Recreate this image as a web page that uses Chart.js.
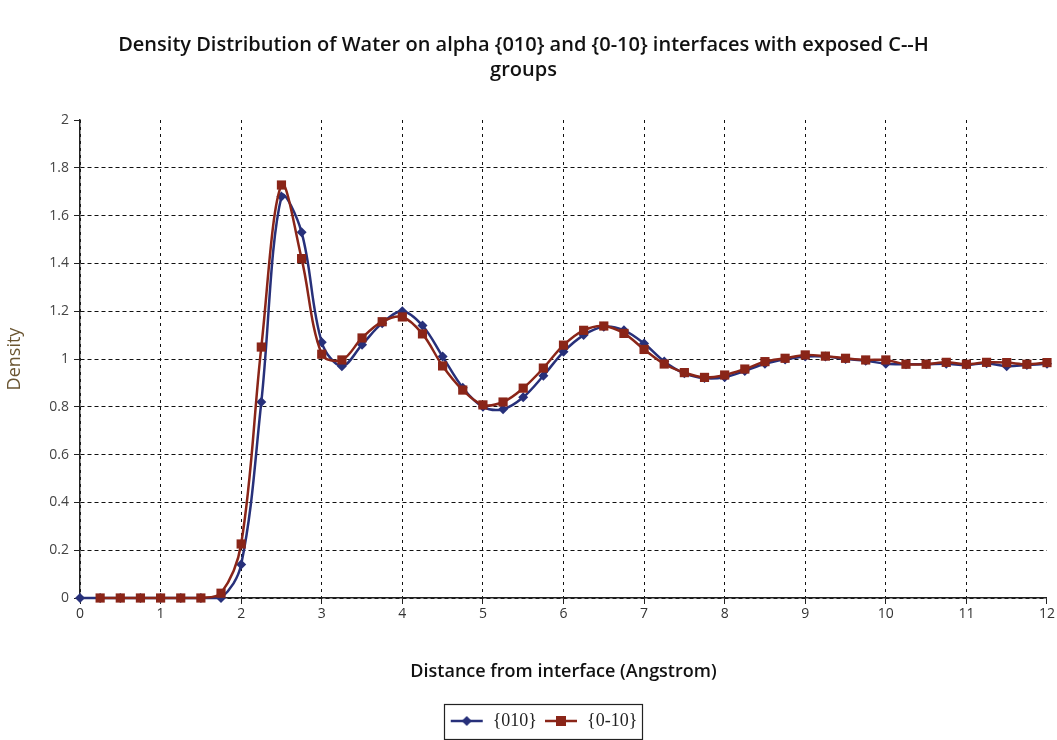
<!DOCTYPE html>
<html>
<head>
<meta charset="utf-8">
<script src="https://cdn.jsdelivr.net/npm/chart.js@4"></script>
<style>
  html, body { margin: 0; padding: 0; background: #fff; }
  #wrap { width: 1057px; height: 740px; }
</style>
</head>
<body>
<div id="wrap"><canvas id="DensityChart"></canvas></div>
<script>
const distance = [
    0, 0.25, 0.5, 0.75, 1, 1.25, 1.5, 1.75, 2, 2.25, 2.5, 2.75,
    3, 3.25, 3.5, 3.75, 4, 4.25, 4.5, 4.75, 5, 5.25, 5.5, 5.75,
    6, 6.25, 6.5, 6.75, 7, 7.25, 7.5, 7.75, 8, 8.25, 8.5, 8.75,
    9, 9.25, 9.5, 9.75, 10, 10.25, 10.5, 10.75, 11, 11.25, 11.5, 11.75, 12
];
const density_010 = [
    0, 0, 0, 0, 0, 0, 0, 0, 0.14, 0.82, 1.68, 1.53,
    1.07, 0.97, 1.06, 1.15, 1.20, 1.14, 1.01, 0.88, 0.80, 0.79, 0.84, 0.93,
    1.03, 1.10, 1.135, 1.12, 1.065, 0.99, 0.94, 0.92, 0.924, 0.95, 0.98, 0.998,
    1.01, 1.01, 1.0, 0.993, 0.98, 0.978, 0.978, 0.98, 0.975, 0.982, 0.97, 0.975, 0.98
];
// {0-10} series has no point at 0
const density_0m10 = [
    null, 0, 0, 0, 0, 0, 0, 0.02, 0.226, 1.05, 1.728, 1.42,
    1.02, 0.996, 1.088, 1.156, 1.176, 1.105, 0.971, 0.87, 0.808, 0.82, 0.878, 0.962,
    1.058, 1.12, 1.138, 1.107, 1.04, 0.979, 0.943, 0.923, 0.933, 0.958, 0.989, 1.003,
    1.017, 1.012, 1.003, 0.996, 0.996, 0.978, 0.978, 0.986, 0.978, 0.986, 0.985, 0.978, 0.985
];
const series_labels = ['{010}', '{0-10}'];
const x_ticks = [0, 1, 2, 3, 4, 5, 6, 7, 8, 9, 10, 11, 12];

const BLUE = '#27307a';
const RED = '#8a2518';

function toPoints(ys) {
    return distance.map((x, i) => ({ x: x, y: ys[i] }));
}

// small line+marker swatch for the legend
function legendSwatch(color, style) {
    const c = document.createElement('canvas');
    c.width = 34; c.height = 14;
    const g = c.getContext('2d');
    g.strokeStyle = color; g.lineWidth = 2.5;
    g.beginPath(); g.moveTo(1, 7); g.lineTo(33, 7); g.stroke();
    g.fillStyle = color;
    if (style === 'diamond') {
        g.beginPath(); g.moveTo(17, 2); g.lineTo(22, 7); g.lineTo(17, 12); g.lineTo(12, 7); g.closePath(); g.fill();
    } else {
        g.fillRect(12, 2, 10, 10);
    }
    return c;
}
const swatches = [legendSwatch(BLUE, 'diamond'), legendSwatch(RED, 'square')];

// nudge the legend a little right of centre and frame its items
const legendBorder = {
    id: 'legendBorder',
    afterLayout(chart) {
        const l = chart.legend;
        if (!l) return;
        l.left += 20;
        l.right += 20;
    },
    afterDraw(chart) {
        const l = chart.legend;
        if (!l || !l.legendHitBoxes || !l.legendHitBoxes.length) return;
        const boxes = l.legendHitBoxes;
        const left = Math.min(...boxes.map(b => b.left)) - 6;
        const right = Math.max(...boxes.map(b => b.left + b.width)) + 4;
        const top = Math.min(...boxes.map(b => b.top)) - 8;
        const bottom = Math.max(...boxes.map(b => b.top + b.height)) + 9;
        const ctx = chart.ctx;
        ctx.save();
        ctx.strokeStyle = '#222';
        ctx.lineWidth = 1.2;
        ctx.strokeRect(Math.round(left) + 0.5, Math.round(top) + 0.5, Math.round(right - left), Math.round(bottom - top));
        ctx.restore();
    }
};

const data = {
    datasets: [{
        label: series_labels[0],
        data: toPoints(density_010),
        borderColor: BLUE,
        backgroundColor: BLUE,
        borderWidth: 2.5,
        pointStyle: 'rectRot',
        pointRadius: 5,
        pointBorderWidth: 0,
        tension: 0.35,
        clip: false,
        order: 1
    }, {
        label: series_labels[1],
        data: toPoints(density_0m10),
        borderColor: RED,
        backgroundColor: RED,
        borderWidth: 2.5,
        pointStyle: 'rect',
        pointRadius: 6.5,
        pointBorderWidth: 0,
        tension: 0.35,
        clip: false,
        order: 0
    }]
};

const config = {
    type: 'line',
    data: data,
    options: {
        responsive: true,
        maintainAspectRatio: false,
        animation: false,
        layout: { padding: { right: 10, bottom: 0 } },
        plugins: {
            title: {
                display: true,
                text: ['Density Distribution of Water on alpha {010} and {0-10} interfaces with exposed C--H', 'groups'],
                font: { family: 'Open Sans', size: 20, weight: '600', lineHeight: 1.25 },
                color: '#111',
                padding: { top: 33, bottom: 37 }
            },
            legend: {
                position: 'bottom',
                labels: {
                    usePointStyle: true,
                    pointStyleWidth: 34,
                    font: { family: 'Liberation Serif', size: 18 },
                    color: '#222',
                    padding: 7,
                    sort: (a, b) => a.datasetIndex - b.datasetIndex,
                    generateLabels(chart) {
                        const items = Chart.defaults.plugins.legend.labels.generateLabels(chart);
                        items.forEach(it => { it.pointStyle = swatches[it.datasetIndex]; });
                        return items;
                    }
                }
            },
            tooltip: { enabled: false }
        },
        scales: {
            x: {
                type: 'linear',
                min: 0,
                max: 12,
                afterBuildTicks(scale) { scale.ticks = x_ticks.map(v => ({ value: v })); },
                afterFit(scale) { scale.height = 107; },
                ticks: {
                    font: { family: 'Open Sans', size: 14 },
                    color: '#333',
                    padding: 2
                },
                grid: {
                    color: ctx => (ctx.tick && ctx.tick.value === 12) ? 'rgba(0,0,0,0)' : '#111',
                    lineWidth: 1,
                    tickLength: 6,
                    tickColor: '#222'
                },
                border: { color: '#222', width: 1.5, dash: [3, 4] },
                title: {
                    display: true,
                    text: 'Distance from interface (Angstrom)',
                    font: { family: 'Open Sans', size: 18, weight: '600' },
                    color: '#111',
                    padding: { top: 10, bottom: 22 }
                }
            },
            y: {
                min: 0,
                max: 2,
                afterFit(scale) { scale.width = 80; },
                ticks: {
                    stepSize: 0.2,
                    font: { family: 'Open Sans', size: 14 },
                    color: '#444',
                    padding: 5,
                    callback: v => Math.round(v * 10) / 10
                },
                grid: {
                    color: ctx => (ctx.tick && ctx.tick.value === 2) ? 'rgba(0,0,0,0)' : '#111',
                    lineWidth: 1,
                    tickLength: 6,
                    tickColor: '#222'
                },
                border: { color: '#222', width: 1.5, dash: [4, 3] },
                title: {
                    display: true,
                    text: 'Density',
                    font: { family: 'Open Sans', size: 18 },
                    color: '#6b5632',
                    padding: { bottom: 2 }
                }
            }
        }
    },
    plugins: [legendBorder]
};

const DensityChart = new Chart(
    document.getElementById('DensityChart'),
    config
);
</script>
</body>
</html>
